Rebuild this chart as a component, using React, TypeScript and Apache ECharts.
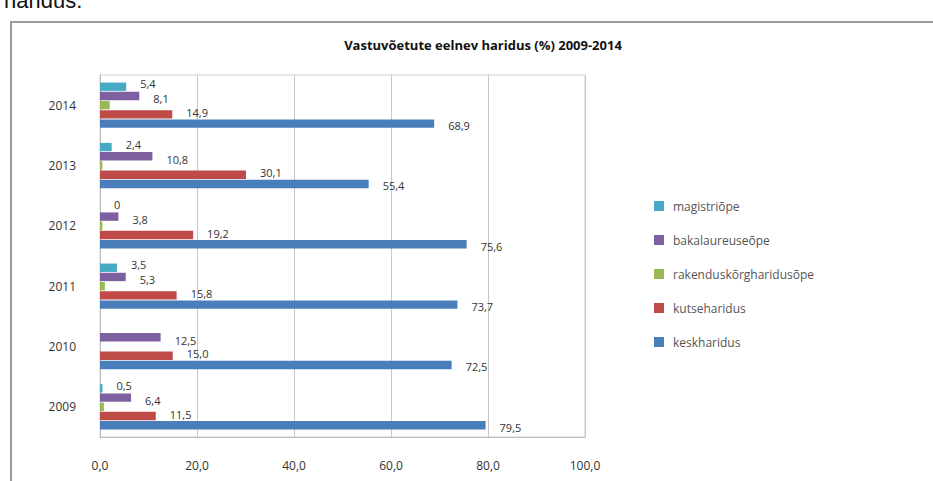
import React, { useEffect, useRef } from "react";
import * as echarts from "echarts";

const years = ["2009", "2010", "2011", "2012", "2013", "2014"];
const magistriope = [0.5, null, 3.5, 0, 2.4, 5.4];
const bakalaureuseope = [6.4, 12.5, 5.3, 3.8, 10.8, 8.1];
const rakenduskorgharidusope = [0.8, null, 1.0, 0.5, 0.5, 2.0];
const kutseharidus = [11.5, 15.0, 15.8, 19.2, 30.1, 14.9];
const keskharidus = [79.5, 72.5, 73.7, 75.6, 55.4, 68.9];
const xTicks = [0, 20, 40, 60, 80, 100];

const seriesNames = [
  "magistriõpe",
  "bakalaureuseõpe",
  "rakenduskõrgharidusõpe",
  "kutseharidus",
  "keskharidus",
];
const seriesData = [magistriope, bakalaureuseope, rakenduskorgharidusope, kutseharidus, keskharidus];
const seriesColors = ["#46aac5", "#7d60a0", "#98b954", "#be4b48", "#4a7ebb"];
const seriesLabels = [true, true, false, true, true];
const labelOffsets = [[0, -3], [0, 3], [0, 0], [0, -2], [0, 2]];

const fmt = (v: number) => v.toFixed(1).replace(".", ",");

export default function App() {
  const ref = useRef<HTMLDivElement>(null);
  useEffect(() => {
    if (!ref.current) return;
    const chart = echarts.init(ref.current, null, { renderer: "svg" });
    const font = "'Open Sans', 'Liberation Sans', sans-serif";
    chart.setOption({
      animation: false,
      backgroundColor: "#ffffff",
      textStyle: { fontFamily: font },
      title: {
        text: "Vastuvõetute eelnev haridus (%) 2009-2014",
        left: 478,
        textAlign: "center",
        top: 33,
        textStyle: { fontSize: 13, fontWeight: "bold", color: "#111", fontFamily: font },
      },
      graphic: [
        {
          type: "text",
          left: 4,
          top: -11,
          style: { text: "haridus.", fontSize: 22, fill: "#111", fontFamily: "'Liberation Sans', Arial, sans-serif" },
        },
        {
          type: "rect",
          shape: { x: 11, y: 22, width: 940, height: 480 },
          style: { fill: "none", stroke: "#9a9a9a", lineWidth: 2 },
        },
      ],
      legend: {
        orient: "vertical",
        left: 649,
        top: 195,
        itemWidth: 10,
        itemHeight: 10,
        itemGap: 22,
        icon: "rect",
        data: seriesNames,
        textStyle: { fontSize: 12, color: "#555", fontFamily: font, padding: [0, 0, 0, 4] },
      },
      grid: {
        left: 100,
        top: 75,
        width: 485,
        height: 362,
        containLabel: false,
        show: true,
        borderColor: "#cfcfcf",
        borderWidth: 1,
      },
      xAxis: {
        type: "value",
        min: 0,
        max: 100,
        interval: 20,
        axisLine: { show: true, lineStyle: { color: "#bdbdbd" } },
        axisTick: { show: false },
        splitLine: { show: true, lineStyle: { color: "#c8c8c8" } },
        axisLabel: {
          color: "#333",
          fontSize: 12,
          margin: 22,
          formatter: (v: number) => (xTicks.includes(v) ? fmt(v) : ""),
        },
      },
      yAxis: {
        type: "category",
        data: years,
        axisLine: { show: true, lineStyle: { color: "#bdbdbd" } },
        axisTick: { show: false },
        axisLabel: { color: "#333", fontSize: 12, margin: 24 },
        splitLine: { show: false },
      },
      series: seriesNames.map((name, i) => ({
        name,
        type: "bar",
        data: seriesData[i],
        barGap: "10%",
        barCategoryGap: "25%",
        itemStyle: { color: seriesColors[i] },
        label: {
          show: seriesLabels[i],
          position: "right",
          distance: 14,
          offset: labelOffsets[i],
          color: "#333",
          fontSize: 11,
          formatter: (p: any) => (p.value === null || p.value === undefined ? "" : p.value === 0 ? "0" : fmt(p.value)),
        },
      })),
    });
    return () => chart.dispose();
  }, []);
  return (
    <div
      ref={ref}
      style={{ position: "absolute", left: 0, top: 0, width: 933, height: 481 }}
    />
  );
}
